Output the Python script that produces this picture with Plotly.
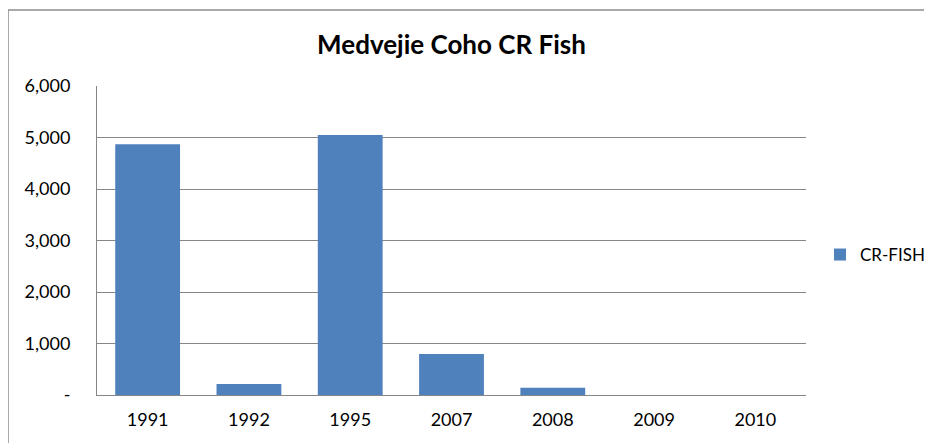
import plotly.graph_objects as go

years = ["1991", "1992", "1995", "2007", "2008", "2009", "2010"]
cr_fish = [4870, 214, 5050, 796, 142, 0, 0]
y_tickvals = [0, 1000, 2000, 3000, 4000, 5000, 6000]
y_ticktext = ["-", "1,000", "2,000", "3,000", "4,000", "5,000", "6,000"]

# page has an 8px body margin, so work in figure coordinates (page - 8)
OFF = 8
W, H = 932 - OFF, 443 - OFF
L, R, T, B = 97 - OFF, 806 - OFF, 86 - OFF, 395 - OFF

def px(x):
    return (x - OFF - L) / (R - L)

def py(y):
    return (B - (y - OFF)) / (B - T)

fig = go.Figure()
fig.add_trace(go.Bar(x=years, y=cr_fish, name="CR-FISH",
                     marker=dict(color="#4F81BD", line=dict(width=0))))

fig.update_layout(
    width=W, height=H,
    margin=dict(l=L, r=W - R, t=T, b=H - B, autoexpand=False),
    paper_bgcolor="white", plot_bgcolor="white",
    font=dict(family="Lato, Open Sans, sans-serif", size=18, color="black"),
    title=dict(text="<b>Medvejie Coho CR Fish</b>", x=0.5, xref="paper",
               y=1 - (45 - OFF) / H, yanchor="middle", font=dict(size=26)),
    bargap=0.36,
    showlegend=True,
    legend=dict(x=px(820), y=py(255), xanchor="left", yanchor="middle",
                font=dict(size=17), bgcolor="rgba(0,0,0,0)", itemwidth=30),
    xaxis=dict(type="category", showline=True, linecolor="#868686", linewidth=1,
               showgrid=False, ticks="", tickfont=dict(size=18),
               ticklabelstandoff=8),
    yaxis=dict(range=[0, 6000], tickvals=y_tickvals, ticktext=y_ticktext,
               showline=True, linecolor="#868686", linewidth=1,
               showgrid=True, gridcolor="#868686", gridwidth=1,
               zeroline=False, ticks="", tickfont=dict(size=18),
               ticklabelstandoff=22),
)

fig.add_shape(type="line", xref="paper", yref="paper",
              x0=px(8), x1=px(940), y0=py(10), y1=py(10),
              line=dict(color="#8c8c8c", width=1.5))
fig.add_shape(type="line", xref="paper", yref="paper",
              x0=px(8), x1=px(8), y0=py(10), y1=py(460),
              line=dict(color="#8c8c8c", width=1.5))

fig.write_html("out.html")
